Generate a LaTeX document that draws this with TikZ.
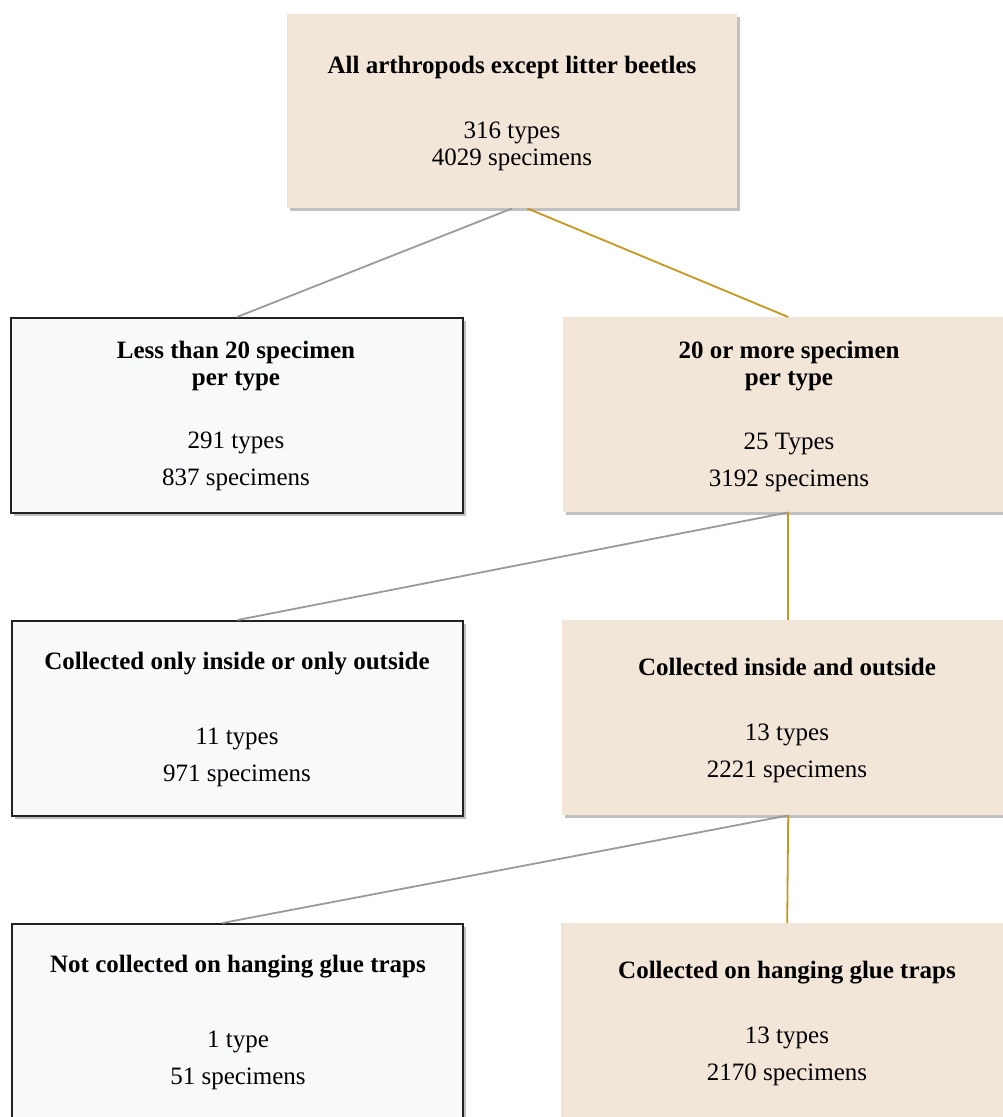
\documentclass[tikz,border=0pt]{standalone}
\usepackage{fontspec}
\setmainfont{Liberation Serif}
\usetikzlibrary{shadows}
\definecolor{tanfill}{HTML}{F2E6D8}
\definecolor{palefill}{HTML}{F8F9FA}
\definecolor{greyline}{HTML}{9A9A9A}
\definecolor{goldline}{HTML}{C8961F}
\definecolor{boxedge}{HTML}{222222}
\tikzset{
  shadowed/.style={drop shadow={shadow xshift=3pt,shadow yshift=-3pt,fill=black!55,opacity=0.45}},
  tanbox/.style={rectangle,fill=tanfill,draw=none,shadowed,anchor=north west,inner sep=0pt},
  palebox/.style={rectangle,fill=palefill,draw=boxedge,line width=1.8pt,shadowed,anchor=north west,inner sep=0pt},
  txt/.style={anchor=base,inner sep=0pt,font=\fontsize{25}{27}\selectfont},
  btxt/.style={txt,font=\fontsize{25}{27}\selectfont\bfseries},
  greyconn/.style={draw=greyline,line width=1.8pt},
  goldconn/.style={draw=goldline,line width=1.8pt}
}
\begin{document}
\begin{tikzpicture}[x=1pt,y=-1pt]
\useasboundingbox (0,0) rectangle (1003,1117);
\clip (0,0) rectangle (1003,1117);
% boxes
\node[tanbox,minimum width=450pt,minimum height=194pt] (top) at (287,14) {};
\node[palebox,minimum width=452pt,minimum height=195pt] (L1) at (10,317) {};
\node[tanbox,minimum width=450pt,minimum height=195pt] (R1) at (563,317) {};
\node[palebox,minimum width=451pt,minimum height=195pt] (L2) at (11,620) {};
\node[tanbox,minimum width=452pt,minimum height=195pt] (R2) at (562,620) {};
\node[palebox,minimum width=451pt,minimum height=260pt] (L3) at (11,923) {};
\node[tanbox,minimum width=452pt,minimum height=260pt] (R3) at (561,923) {};
% connectors
\draw[greyconn] (top.south) -- (L1.north);
\draw[goldconn] ([xshift=15pt]top.south) -- (R1.north);
\draw[greyconn] (R1.south) -- (L2.north);
\draw[goldconn] (R1.south) -- (R2.north);
\draw[greyconn] (R2.south) -- ([xshift=-15pt]L3.north);
\draw[goldconn] (R2.south) -- (R3.north);
% texts top
\node[btxt] (t0a) at (512,73) {All arthropods except litter beetles};
\node[txt] (t0b) at (512,138) {316 types};
\node[txt] (t0c) at (512,165) {4029 specimens};
% level 1
\node[btxt] (l1a) at (236,358) {Less than 20 specimen};
\node[btxt] (l1b) at (236,385) {per type};
\node[txt] (l1c) at (236,448) {291 types};
\node[txt] (l1d) at (236,485) {837 specimens};
\node[btxt] (r1a) at (789,358) {20 or more specimen};
\node[btxt] (r1b) at (789,385) {per type};
\node[txt] (r1c) at (789,449) {25 Types};
\node[txt] (r1d) at (789,486) {3192 specimens};
% level 2
\node[btxt] (l2a) at (237,669) {Collected only inside or only outside};
\node[txt] (l2b) at (237,744) {11 types};
\node[txt] (l2c) at (237,781) {971 specimens};
\node[btxt] (r2a) at (787,675) {Collected inside and outside};
\node[txt] (r2b) at (787,740) {13 types};
\node[txt] (r2c) at (787,777) {2221 specimens};
% level 3
\node[btxt] (l3a) at (238,972) {Not collected on hanging glue traps};
\node[txt] (l3b) at (238,1047) {1 type};
\node[txt] (l3c) at (238,1084) {51 specimens};
\node[btxt] (r3a) at (787,978) {Collected on hanging glue traps};
\node[txt] (r3b) at (787,1043) {13 types};
\node[txt] (r3c) at (787,1080) {2170 specimens};
\end{tikzpicture}
\end{document}
